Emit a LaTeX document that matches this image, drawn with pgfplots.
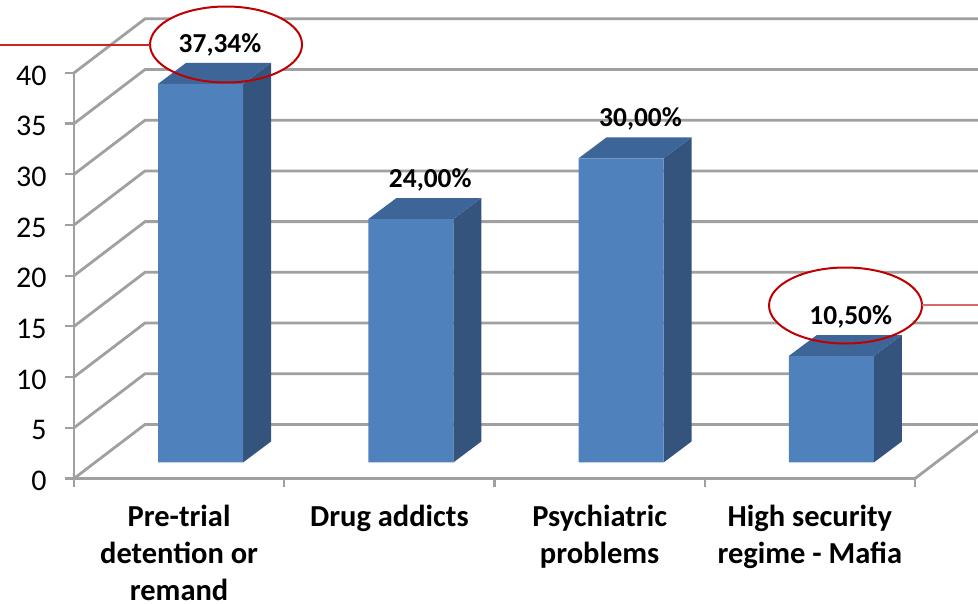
\documentclass[border=0pt]{standalone}
\usepackage{fontspec}
\setmainfont{Carlito}
\usepackage{pgfplots}
\pgfplotsset{compat=1.18}
\definecolor{barfront}{HTML}{4F81BD}
\definecolor{barside}{HTML}{34547E}
\definecolor{bartop}{HTML}{3D6597}
\definecolor{wall}{HTML}{A0A0A0}
\definecolor{ring}{HTML}{C00000}
\definecolor{leader}{HTML}{DA6A6A}
\begin{document}
\begin{tikzpicture}
\path[clip, use as bounding box] (0,0) rectangle (978pt,604pt);
\begin{axis}[
    at={(74pt,125.5pt)}, anchor=south west,
    scale only axis,
    width=841pt, height=405.6pt,
    xmin=-0.5, xmax=3.5,
    ymin=0, ymax=40,
    clip=false,
    axis x line*=bottom,
    axis y line*=left,
    axis line style={wall, line width=2.8pt, -},
    tick style={wall, line width=2.2pt},
    tick align=outside,
    major tick length=9pt,
    minor tick length=9pt,
    ytick distance=5,
    xtick={0,1,2,3},
    xticklabels={{Pre-trial\\detention or\\remand},{Drug addicts},{Psychiatric\\problems},{High security\\regime - Mafia}},
    minor xtick={-0.5,0.5,1.5,2.5,3.5},
    major x tick style={draw=none},
    minor x tick style={wall, line width=2.2pt},
    /pgf/number format/assume math mode=true,
    yticklabel style={font=\fontsize{30}{32}\selectfont, text=black, xshift=-15pt, yshift=-2.5pt},
    xticklabel style={font=\fontsize{30.5}{37}\selectfont\bfseries, align=center, text=black, yshift=-14.5pt},
]
% walls
\pgfplotsinvokeforeach{0,5,...,40}{
  \draw[wall, line width=2.8pt] (axis cs:-0.5,#1) -- (axis cs:-0.1623,{#1+5.33}) -- (axis cs:3.9,{#1+5.33});
}
\draw[wall, line width=2.8pt] (axis cs:3.5,0) -- (axis cs:3.838,5.33);
% white inside of the rings, bars stand in front of it
\fill[white] (axis cs:0.2231,42.8) ellipse [x radius=76pt, y radius=38pt];
\fill[white] (axis cs:3.1696,17.06) ellipse [x radius=76.5pt, y radius=38pt];

\pgfplotsset{every axis plot/.append style={xshift=21.4pt, yshift=16pt}}
% side faces
\addplot[fill=barside, draw=none] coordinates {(0.2021,0)(0.2021,37.34)(0.3353,39.41)(0.3353,2.07)};
\addplot[fill=barside, draw=none] coordinates {(1.2021,0)(1.2021,24)(1.3353,26.07)(1.3353,2.07)};
\addplot[fill=barside, draw=none] coordinates {(2.2021,0)(2.2021,30)(2.3353,32.07)(2.3353,2.07)};
\addplot[fill=barside, draw=none] coordinates {(3.2021,0)(3.2021,10.5)(3.3353,12.57)(3.3353,2.07)};
% top faces
\addplot[fill=bartop, draw=none] coordinates {(-0.2021,37.34)(0.2021,37.34)(0.3353,39.41)(-0.0689,39.41)};
\addplot[fill=bartop, draw=none] coordinates {(0.7979,24)(1.2021,24)(1.3353,26.07)(0.9311,26.07)};
\addplot[fill=bartop, draw=none] coordinates {(1.7979,30)(2.2021,30)(2.3353,32.07)(1.9311,32.07)};
\addplot[fill=bartop, draw=none] coordinates {(2.7979,10.5)(3.2021,10.5)(3.3353,12.57)(2.9311,12.57)};
% front faces with the labels
\addplot[ybar, fill=barfront, draw=none, bar width=85pt,
    point meta=explicit symbolic,
    nodes near coords,
    nodes near coords style={font=\fontsize{27.4}{30}\selectfont\bfseries, text=black, anchor=center, xshift=19.5pt, yshift=39pt}]
  coordinates {(0,37.34) [37,34\%] (1,24) [24,00\%] (2,30) [30,00\%] (3,10.5) [10,50\%]};

% rings and leader lines
\draw[ring, line width=2pt] (axis cs:0.2231,42.8) ellipse [x radius=76pt, y radius=38pt];
\draw[ring, line width=2pt] (axis cs:3.1696,17.06) ellipse [x radius=76.5pt, y radius=38pt];
\draw[ring!85!white, line width=1.2pt] (axis cs:-0.86,42.75) -- (axis cs:-0.1372,42.75);
\draw[leader, line width=2pt] (axis cs:3.533,17.1) -- (axis cs:3.8,17.1);
\end{axis}
\end{tikzpicture}
\end{document}
